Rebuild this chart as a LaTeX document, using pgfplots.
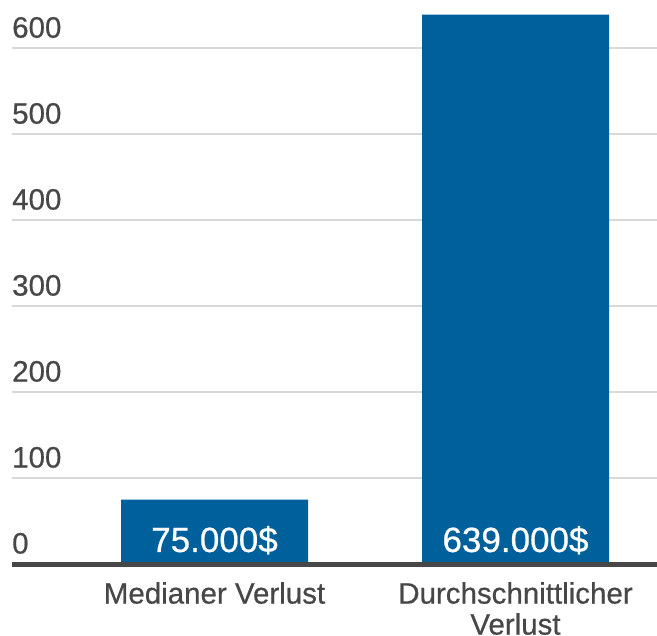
\documentclass[border=0pt]{standalone}
\usepackage{pgfplots}
\pgfplotsset{compat=1.18}
\usepackage{fontspec}
\setmainfont{Liberation Sans}[FakeBold=0.6]
\definecolor{barblue}{HTML}{00609B}
\definecolor{gridgray}{HTML}{D9D9D9}
\definecolor{txtgray}{HTML}{474747}
\begin{document}
\begin{tikzpicture}
\useasboundingbox (-12pt,-72pt) rectangle (645pt,564pt);
\begin{axis}[
  scale only axis, width=645pt, height=564pt,
  xmin=-0.6728, xmax=1.4701, ymin=0, ymax=656,
  ytick={0,100,...,600}, ymajorgrids,
  major grid style={gridgray, line width=2.7pt},
  xtick={0,1}, xticklabels={Medianer Verlust, {Durchschnittlicher\\Verlust}},
  xticklabel style={align=center, font=\fontsize{29.5}{31}\selectfont, text=txtgray, anchor=north, inner sep=0pt, yshift=-18pt},
  yticklabel style={anchor=south west, font=\fontsize{29.5}{30}\selectfont, text=txtgray, inner sep=0pt, yshift=10pt},
  /pgf/number format/assume math mode=true,
  axis line style={draw=none},
  major tick length=0pt,
  tick style={draw=none},
  clip=false,
]
\addplot[ybar, bar width=187pt, fill=barblue, draw=none] coordinates {(0,75) (1,639)};
\addplot[only marks, mark=none, nodes near coords, point meta=explicit symbolic,
  nodes near coords style={anchor=base, yshift=12pt, text=white, inner sep=0pt, font=\fontsize{35}{36}\selectfont}]
  coordinates {(0,0)[75.000\$] (1,0)[639.000\$]};
\draw[txtgray, line width=5pt] ([yshift=-1pt]rel axis cs:0,0) -- ([yshift=-1pt]rel axis cs:1,0);
\end{axis}
\end{tikzpicture}
\end{document}
